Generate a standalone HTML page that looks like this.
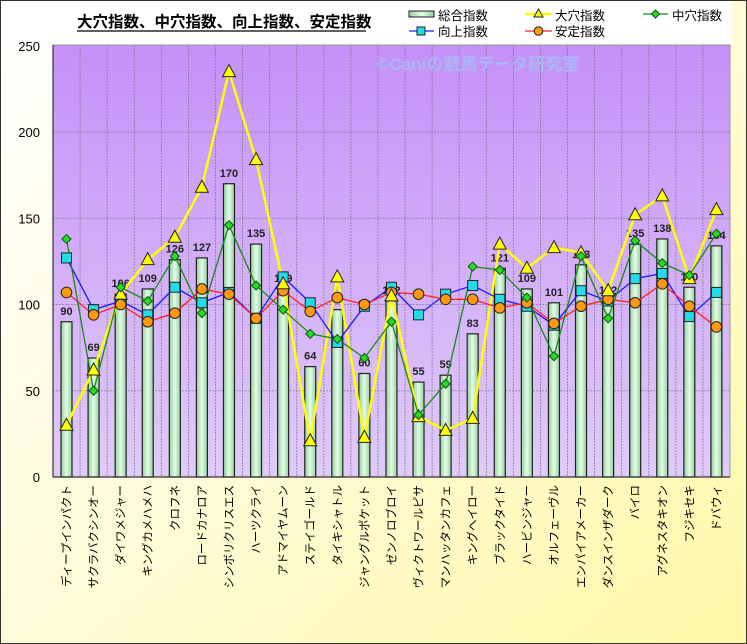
<!DOCTYPE html>
<html><head><meta charset="utf-8"><style>
html,body{margin:0;padding:0;}
body{width:747px;height:644px;overflow:hidden;}
svg{display:block;font-family:"Liberation Sans","Noto Sans CJK JP",sans-serif;}
</style></head><body>
<svg id="c" width="747" height="644" xmlns="http://www.w3.org/2000/svg">
<defs>
<linearGradient id="bg" x1="0" y1="0" x2="1" y2="1">
<stop offset="0" stop-color="#ffffff"/><stop offset="0.5" stop-color="#fffbd8"/><stop offset="1" stop-color="#fff8a8"/></linearGradient>
<linearGradient id="pl" x1="0" y1="0" x2="0" y2="1">
<stop offset="0" stop-color="#c590f8"/><stop offset="1" stop-color="#e0cbf8"/></linearGradient>
<linearGradient id="bar" x1="0" y1="0" x2="1" y2="0">
<stop offset="0" stop-color="#8fd09a"/><stop offset="0.5" stop-color="#e6fbe8"/><stop offset="1" stop-color="#8fd09a"/></linearGradient>
</defs>
<rect x="0.5" y="0.5" width="746" height="643" fill="url(#bg)" stroke="#333"/>
<rect x="1" y="1" width="731" height="43" fill="#fff"/>
<rect x="53" y="45" width="677" height="432" fill="url(#pl)" stroke="#999"/>
<g id="g"></g>
</svg>
<script>
var g=document.getElementById('g'),ns='http://www.w3.org/2000/svg',h='';
function Y(v){return 477-v*1.725;}
function X(i){return 66.5+27.08*i;}
var names=["ディープインパクト","サクラバクシンオー","ダイワメジャー","キングカメハメハ","クロフネ","ロードカナロア","シンボリクリスエス","ハーツクライ","アドマイヤムーン","ステイゴールド","タイキシャトル","ジャングルポケット","ゼンノロブロイ","ヴィクトワールピサ","マンハッタンカフェ","キングヘイロー","ブラックタイド","ハービンジャー","オルフェーヴル","エンパイアメーカー","ダンスインザダーク","バイロ","アグネスタキオン","フジキセキ","ドバウィ"];
var tot=[90,69,106,109,126,127,170,135,109,64,97,60,102,55,59,83,121,109,101,123,102,135,138,110,134];
var oa=[30,62,106,126,139,168,235,184,112,21,116,23,105,35,27,34,135,121,133,130,108,152,163,115,155];
var na=[138,50,110,102,128,95,146,111,97,83,80,69,90,36,54,122,120,104,70,128,92,137,124,117,141];
var up=[127,97,102,94,110,101,107,92,116,101,78,99,110,94,106,111,103,99,88,108,102,115,118,93,107];
var st=[107,94,100,90,95,109,106,92,108,96,104,100,107,106,103,103,98,101,89,99,103,101,112,99,87];
// grid
for(var v=50;v<250;v+=50)h+='<line x1="53" x2="730" y1="'+Y(v)+'" y2="'+Y(v)+'" stroke="#8a7a9a" stroke-dasharray="2,1" stroke-width="0.8"/>';
for(var i=1;i<25;i++){var x=53+27.08*i;h+='<line x1="'+x+'" x2="'+x+'" y1="45" y2="477" stroke="#8a7a9a" stroke-dasharray="2,1" stroke-width="0.8"/>';}
for(var v=0;v<=250;v+=50)h+='<text x="40" y="'+(Y(v)+5)+'" font-size="13" text-anchor="end" fill="#000">'+v+'</text>';
h+='<text x="377" y="70" font-size="17" fill="#a9b8f5" font-weight="bold">©Caniの競馬データ研究室</text>';
// bars
for(var i=0;i<25;i++){var x=X(i);h+='<rect x="'+(x-5.5)+'" y="'+Y(tot[i])+'" width="11" height="'+(477-Y(tot[i]))+'" fill="url(#bar)" stroke="#222" stroke-width="1.2"/>';
h+='<text x="'+x+'" y="'+(Y(tot[i])-7)+'" font-size="11" font-weight="bold" text-anchor="middle" fill="#222">'+tot[i]+'</text>';
h+='<text transform="translate('+(x+4)+',485) rotate(-90)" font-size="11.5" text-anchor="end" fill="#000">'+names[i]+'</text>';}
h+='<line x1="53" x2="730" y1="477" y2="477" stroke="#333" stroke-width="1.2"/><line x1="53" x2="53" y1="45" y2="477" stroke="#333" stroke-width="1.2"/>';
function pts(a){return a.map(function(v,i){return X(i)+','+Y(v)}).join(' ');}
h+='<polyline points="'+pts(oa)+'" fill="none" stroke="#ffff00" stroke-width="2.5"/>';
h+='<polyline points="'+pts(up)+'" fill="none" stroke="#1a1aff" stroke-width="1.3"/>';
h+='<polyline points="'+pts(st)+'" fill="none" stroke="#ff2020" stroke-width="1.3"/>';
h+='<polyline points="'+pts(na)+'" fill="none" stroke="#158a15" stroke-width="1.3"/>';
for(var i=0;i<25;i++){var x=X(i),y;
y=Y(up[i]);h+='<rect x="'+(x-5)+'" y="'+(y-5)+'" width="10" height="10" fill="#22dde8" stroke="#222"/>';
y=Y(st[i]);h+='<circle cx="'+x+'" cy="'+y+'" r="5.3" fill="#ff9a10" stroke="#222"/>';
y=Y(oa[i]);h+='<polygon points="'+x+','+(y-7)+' '+(x-6.5)+','+(y+5)+' '+(x+6.5)+','+(y+5)+'" fill="#ffff00" stroke="#222"/>';
y=Y(na[i]);h+='<polygon points="'+x+','+(y-4.5)+' '+(x+4.5)+','+y+' '+x+','+(y+4.5)+' '+(x-4.5)+','+y+'" fill="#22dd22" stroke="#135013"/>';}
// title
h+='<text x="77" y="27" font-size="15.5" font-weight="bold" fill="#000">大穴指数、中穴指数、向上指数、安定指数</text><line x1="77" x2="366" y1="31" y2="31" stroke="#000" stroke-width="1.3"/>';
// legend
h+='<rect x="409" y="11" width="25" height="6" fill="url(#bar)" stroke="#222"/><text x="438" y="20" font-size="12.5" fill="#000">総合指数</text>';
h+='<line x1="525" x2="552" y1="14" y2="14" stroke="#ffff00" stroke-width="2.5"/><polygon points="538.5,9 534,17 543,17" fill="#ff0" stroke="#222"/><text x="555" y="20" font-size="12.5">大穴指数</text>';
h+='<line x1="643" x2="668" y1="14" y2="14" stroke="#158a15" stroke-width="1.3"/><polygon points="655.5,10 659.5,14 655.5,18 651.5,14" fill="#2d2" stroke="#135013"/><text x="672" y="20" font-size="12.5">中穴指数</text>';
h+='<line x1="409" x2="434" y1="31" y2="31" stroke="#1a1aff" stroke-width="1.3"/><rect x="417" y="27" width="8" height="8" fill="#22dde8" stroke="#222"/><text x="438" y="36" font-size="12.5">向上指数</text>';
h+='<line x1="525" x2="552" y1="31" y2="31" stroke="#ff2020" stroke-width="1.3"/><circle cx="538.5" cy="31" r="4.3" fill="#ff9a10" stroke="#222"/><text x="555" y="36" font-size="12.5">安定指数</text>';
g.innerHTML=h;
</script>
</body></html>
